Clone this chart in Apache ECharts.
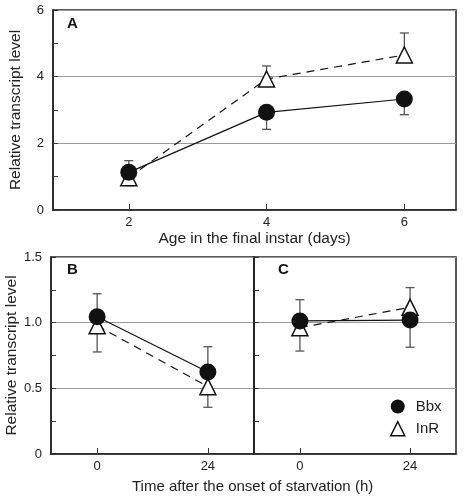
<!DOCTYPE html>
<html><head><meta charset="utf-8">
<script src="https://cdn.jsdelivr.net/npm/echarts@6/dist/echarts.min.js"></script>
<style>html,body{margin:0;padding:0;background:#fff}#c{width:463px;height:500px}</style>
</head><body><div id="c"></div>
<script>
// Panel A: age in final instar (days)
const agesA = [2, 4, 6];
const bbxA = [1.13, 2.93, 3.33];
const bbxA_low = [0.73, 2.42, 2.86];
const bbxA_high = [1.13, 2.93, 3.33];
const inrA = [0.97, 3.93, 4.65];
const inrA_low = [0.97, 3.93, 4.65];
const inrA_high = [1.48, 4.32, 5.31];
// Panel B: starvation (h)
const timesB = [0, 24];
const bbxB = [1.045, 0.625];
const bbxB_low = [1.045, 0.625];
const bbxB_high = [1.22, 0.817];
const inrB = [0.977, 0.513];
const inrB_low = [0.777, 0.356];
const inrB_high = [0.977, 0.513];
// Panel C
const timesC = [0, 24];
const bbxC = [1.013, 1.02];
const bbxC_low = [1.013, 0.813];
const bbxC_high = [1.175, 1.02];
const inrC = [0.962, 1.117];
const inrC_low = [0.784, 1.117];
const inrC_high = [0.962, 1.267];
const seriesNames = ['Bbx', 'InR'];
const ticksA = [2, 4, 6];
const ticksBC = [0, 24];

const FONT = 'Liberation Sans, Arial, sans-serif';
const chart = echarts.init(document.getElementById('c'), null, {renderer: 'canvas'});

function pairs(xs, ys) { return xs.map((x, i) => [x, ys[i]]); }
function errData(xs, lo, hi) { return xs.map((x, i) => [x, lo[i], hi[i]]); }
function errSeries(idx, data) {
  return {
    type: 'custom', xAxisIndex: idx, yAxisIndex: idx, z: 2, silent: true,
    data: data,
    encode: {x: 0, y: [1, 2]},
    renderItem: function (params, api) {
      const x = api.value(0), lo = api.value(1), hi = api.value(2);
      const pLo = api.coord([x, lo]), pHi = api.coord([x, hi]);
      const w = 4.5;
      const st = {stroke: '#555', lineWidth: 1.3};
      const children = [{type: 'line', shape: {x1: pLo[0], y1: pLo[1], x2: pHi[0], y2: pHi[1]}, style: st}];
      if (Math.abs(hi - lo) > 1e-9) {
        children.push({type: 'line', shape: {x1: pLo[0] - w, y1: pLo[1], x2: pLo[0] + w, y2: pLo[1]}, style: st});
        children.push({type: 'line', shape: {x1: pHi[0] - w, y1: pHi[1], x2: pHi[0] + w, y2: pHi[1]}, style: st});
      }
      return {type: 'group', children: children};
    }
  };
}
function bbxSeries(idx, data) {
  return {
    name: seriesNames[0], type: 'line', xAxisIndex: idx, yAxisIndex: idx, z: 4,
    data: data, symbol: 'circle', symbolSize: 17,
    itemStyle: {color: '#111'}, lineStyle: {color: '#111', width: 1.2}
  };
}
function inrSeries(idx, data) {
  return {
    name: seriesNames[1], type: 'line', xAxisIndex: idx, yAxisIndex: idx, z: 3,
    data: data, symbol: 'triangle', symbolSize: 16,
    itemStyle: {color: '#fff', borderColor: '#111', borderWidth: 1.5},
    lineStyle: {color: '#111', width: 1.2, type: [8, 6]}
  };
}
const labelStyle = {color: '#222', fontFamily: FONT, fontSize: 13};
const nameStyle = {color: '#222', fontFamily: FONT, fontSize: 15.5};

function xAxis(idx, min, max, ticks, name) {
  return {
    type: 'value', gridIndex: idx, min: min, max: max,
    axisLine: {show: true, onZero: false, lineStyle: {color: '#222', width: 1.5}},
    axisTick: {show: true, inside: true, length: 6, customValues: ticks, lineStyle: {color: '#333'}},
    axisLabel: Object.assign({customValues: ticks, margin: 6}, labelStyle),
    splitLine: {show: false},
    name: name || '', nameLocation: 'middle', nameGap: 21, nameTextStyle: nameStyle
  };
}
function yAxis(idx, max, interval, showLabels, fmt, name) {
  return {
    type: 'value', gridIndex: idx, min: 0, max: max, interval: interval,
    axisLine: {show: true, onZero: false, lineStyle: {color: '#222', width: 1.5}},
    axisTick: {show: true, inside: true, length: 5, lineStyle: {color: '#333'}},
    minorTick: {show: true, splitNumber: 2, length: 5, lineStyle: {color: '#333'}},
    axisLabel: Object.assign({show: showLabels, margin: 9, formatter: fmt}, labelStyle),
    splitLine: {show: true, lineStyle: {color: '#999', width: 1}},
    name: name || '', nameLocation: 'middle', nameGap: 29, nameTextStyle: nameStyle
  };
}

const option = {
  animation: false,
  backgroundColor: '#fff',
  textStyle: {fontFamily: FONT},
  grid: [
    {left: 51, top: 10, width: 405, height: 200, show: true, borderColor: '#222', borderWidth: 1.5, backgroundColor: 'transparent'},
    {left: 51, top: 257, width: 203, height: 197, show: true, borderColor: '#222', borderWidth: 1.5, backgroundColor: 'transparent'},
    {left: 254, top: 257, width: 202, height: 197, show: true, borderColor: '#222', borderWidth: 1.5, backgroundColor: 'transparent'}
  ],
  xAxis: [
    xAxis(0, 0.9, 6.75, ticksA, 'Age in the final instar (days)'),
    xAxis(1, -10, 34, ticksBC, ''),
    xAxis(2, -10, 34, ticksBC, '')
  ],
  yAxis: [
    yAxis(0, 6, 2, true, v => String(v), 'Relative transcript level'),
    yAxis(1, 1.5, 0.5, true, v => (v === 0 ? '0' : v.toFixed(1)), 'Relative transcript level'),
    yAxis(2, 1.5, 0.5, false, v => '', '')
  ],
  legend: {
    orient: 'vertical', left: 390, top: 399, padding: 0, itemWidth: 14, itemHeight: 14, itemGap: 7,
    textStyle: {color: '#222', fontFamily: FONT, fontSize: 15, padding: [0, 0, 0, 6]},
    data: [
      {name: 'Bbx', icon: 'circle', itemStyle: {color: '#111', borderWidth: 0}},
      {name: 'InR', icon: 'triangle', itemStyle: {color: '#fff', borderColor: '#111', borderWidth: 1.5}}
    ]
  },
  graphic: [
    {type: 'text', left: 67, top: 16, style: {text: 'A', font: 'bold 15px ' + FONT, fill: '#111'}},
    {type: 'text', left: 67, top: 262, style: {text: 'B', font: 'bold 15px ' + FONT, fill: '#111'}},
    {type: 'text', left: 278, top: 262, style: {text: 'C', font: 'bold 15px ' + FONT, fill: '#111'}},
    {type: 'text', left: 132, top: 479, style: {text: 'Time after the onset of starvation (h)', font: '15px ' + FONT, fill: '#222'}}
  ],
  series: [
    errSeries(0, errData(agesA, bbxA_low, bbxA_high)),
    errSeries(0, errData(agesA, inrA_low, inrA_high)),
    inrSeries(0, pairs(agesA, inrA)),
    bbxSeries(0, pairs(agesA, bbxA)),
    errSeries(1, errData(timesB, bbxB_low, bbxB_high)),
    errSeries(1, errData(timesB, inrB_low, inrB_high)),
    inrSeries(1, pairs(timesB, inrB)),
    bbxSeries(1, pairs(timesB, bbxB)),
    errSeries(2, errData(timesC, bbxC_low, bbxC_high)),
    errSeries(2, errData(timesC, inrC_low, inrC_high)),
    inrSeries(2, pairs(timesC, inrC)),
    bbxSeries(2, pairs(timesC, bbxC))
  ]
};
chart.setOption(option);
</script></body></html>
